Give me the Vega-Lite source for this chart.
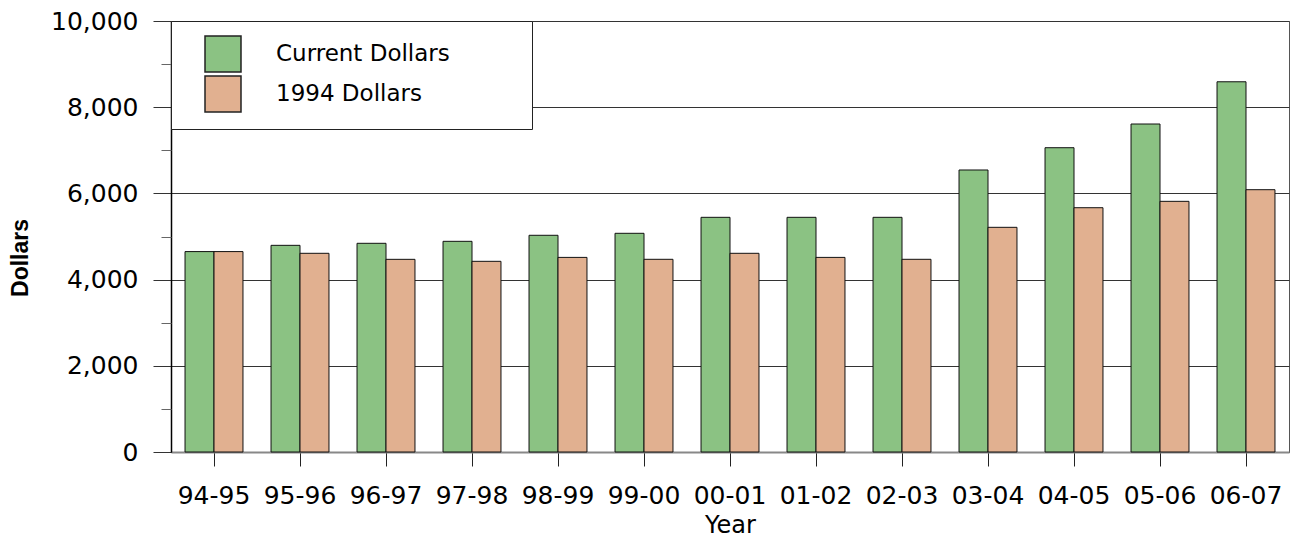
{
  "$schema": "https://vega.github.io/schema/vega-lite/v6.json",
  "autosize": "none",
  "width": 1118,
  "height": 431,
  "padding": {"left": 171, "top": 21, "right": 7, "bottom": 86},
  "background": "white",
  "config": {
    "view": {"stroke": "#555555"},
    "font": "DejaVu Sans"
  },
  "data": {
    "values": [
      {"year": "94-95", "series": "Current Dollars", "value": 4650},
      {"year": "94-95", "series": "1994 Dollars", "value": 4650},
      {"year": "95-96", "series": "Current Dollars", "value": 4795},
      {"year": "95-96", "series": "1994 Dollars", "value": 4610},
      {"year": "96-97", "series": "Current Dollars", "value": 4842},
      {"year": "96-97", "series": "1994 Dollars", "value": 4470},
      {"year": "97-98", "series": "Current Dollars", "value": 4888},
      {"year": "97-98", "series": "1994 Dollars", "value": 4424},
      {"year": "98-99", "series": "Current Dollars", "value": 5028},
      {"year": "98-99", "series": "1994 Dollars", "value": 4515},
      {"year": "99-00", "series": "Current Dollars", "value": 5074},
      {"year": "99-00", "series": "1994 Dollars", "value": 4471},
      {"year": "00-01", "series": "Current Dollars", "value": 5445},
      {"year": "00-01", "series": "1994 Dollars", "value": 4610},
      {"year": "01-02", "series": "Current Dollars", "value": 5445},
      {"year": "01-02", "series": "1994 Dollars", "value": 4515},
      {"year": "02-03", "series": "Current Dollars", "value": 5445},
      {"year": "02-03", "series": "1994 Dollars", "value": 4471},
      {"year": "03-04", "series": "Current Dollars", "value": 6543},
      {"year": "03-04", "series": "1994 Dollars", "value": 5213},
      {"year": "04-05", "series": "Current Dollars", "value": 7060},
      {"year": "04-05", "series": "1994 Dollars", "value": 5668},
      {"year": "05-06", "series": "Current Dollars", "value": 7610},
      {"year": "05-06", "series": "1994 Dollars", "value": 5816},
      {"year": "06-07", "series": "Current Dollars", "value": 8590},
      {"year": "06-07", "series": "1994 Dollars", "value": 6086}
    ]
  },
  "encoding": {
    "x": {
      "field": "year",
      "type": "nominal",
      "sort": null,
      "scale": {"paddingInner": 0.326, "paddingOuter": 0.163},
      "axis": {
        "title": "Year",
        "labelAngle": 0,
        "labelFont": "DejaVu Sans",
        "labelFontSize": 25,
        "labelColor": "#000000",
        "labelPadding": 17,
        "tickSize": 14,
        "tickColor": "#222222",
        "domainColor": "#888888",
        "domainWidth": 2,
        "titleFont": "DejaVu Sans",
        "titleFontSize": 24,
        "titleFontWeight": "normal",
        "titleColor": "#000000",
        "titlePadding": 5,
        "grid": false
      }
    }
  },
  "layer": [
    {
      "mark": {"type": "bar", "stroke": "#111111"},
      "encoding": {
        "xOffset": {
          "field": "series",
          "type": "nominal",
          "sort": ["Current Dollars", "1994 Dollars"],
          "scale": {"paddingInner": 0, "paddingOuter": 0}
        },
        "y": {
          "field": "value",
          "type": "quantitative",
          "scale": {"domain": [0, 10000], "nice": false},
          "axis": {
            "orient": "left",
            "title": "Dollars",
            "values": [0, 2000, 4000, 6000, 8000, 10000],
            "format": ",.0f",
            "labelFont": "DejaVu Sans",
            "labelFontSize": 25,
            "labelColor": "#000000",
            "labelPadding": 15,
            "tickSize": 18,
            "tickColor": "#333333",
            "domainColor": "#000000",
            "domainWidth": 1.5,
            "grid": true,
            "gridColor": "#333333",
            "titleFont": "Liberation Sans",
            "titleFontSize": 23,
            "titleFontWeight": "bold",
            "titleColor": "#000000",
            "titlePadding": 18,
            "titleY": 236.5
          }
        },
        "color": {
          "field": "series",
          "type": "nominal",
          "sort": ["Current Dollars", "1994 Dollars"],
          "scale": {"domain": ["Current Dollars", "1994 Dollars"], "range": ["#8BC283", "#E1B090"]},
          "legend": {
            "title": null,
            "orient": "none",
            "legendX": 0,
            "legendY": 0,
            "padding": 14,
            "fillColor": "#FFFFFF",
            "strokeColor": "#222222",
            "symbolType": "square",
            "symbolSize": 1296,
            "symbolStrokeColor": "#222222",
            "symbolOffset": 19,
            "labelOffset": 34,
            "labelFont": "DejaVu Sans",
            "labelFontSize": 23,
            "labelColor": "#000000",
            "labelLimit": 400,
            "labelExpr": "datum.label + '\u2800\u2800\u2800\u2800'",
            "rowPadding": -2
          }
        }
      }
    },
    {
      "mark": {"type": "tick", "opacity": 0},
      "encoding": {
        "y": {
          "field": "value",
          "type": "quantitative",
          "scale": {"domain": [0, 10000], "nice": false},
          "axis": {
            "orient": "left",
            "title": null,
            "values": [1000, 3000, 5000, 7000, 9000],
            "labels": false,
            "domain": false,
            "grid": false,
            "tickSize": 10,
            "tickColor": "#666666"
          }
        }
      }
    }
  ],
  "resolve": {"axis": {"y": "independent"}}
}
